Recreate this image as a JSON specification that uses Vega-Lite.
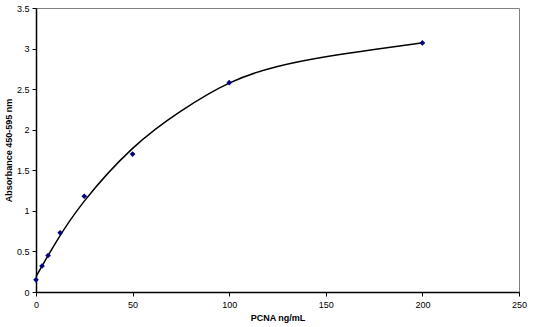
{
  "$schema": "https://vega.github.io/schema/vega-lite/v6.json",
  "autosize": "none",
  "width": 483,
  "height": 284,
  "padding": {"left": 36, "top": 8, "right": 18, "bottom": 35},
  "background": "white",
  "config": {
    "view": {"stroke": "#808080", "strokeWidth": 1},
    "font": "Liberation Sans",
    "axis": {
      "grid": false,
      "labelFlush": false,
      "labelOverlap": false,
      "domainColor": "#000000",
      "domainWidth": 1.5,
      "tickColor": "#000000",
      "tickSize": 4,
      "labelFont": "Liberation Sans",
      "labelFontSize": 9,
      "labelColor": "#000000",
      "titleFont": "Liberation Sans",
      "titleFontSize": 9,
      "titleFontWeight": "bold",
      "titleColor": "#000000"
    }
  },
  "datasets": {
    "points": [
      {"conc": 0, "abs": 0.15},
      {"conc": 3.125, "abs": 0.32},
      {"conc": 6.25, "abs": 0.45},
      {"conc": 12.5, "abs": 0.73},
      {"conc": 25, "abs": 1.18},
      {"conc": 50, "abs": 1.70},
      {"conc": 100, "abs": 2.58},
      {"conc": 200, "abs": 3.07}
    ],
    "curve": [
      {"conc": 0, "abs": 0.19},
      {"conc": 10, "abs": 0.60},
      {"conc": 25, "abs": 1.12},
      {"conc": 50, "abs": 1.77},
      {"conc": 75, "abs": 2.23},
      {"conc": 100, "abs": 2.575},
      {"conc": 125, "abs": 2.78},
      {"conc": 150, "abs": 2.90},
      {"conc": 175, "abs": 2.99},
      {"conc": 200, "abs": 3.07}
    ]
  },
  "layer": [
    {
      "data": {"name": "curve"},
      "mark": {"type": "line", "color": "#000000", "strokeWidth": 1.5, "interpolate": "natural"},
      "encoding": {
        "x": {
          "field": "conc", "type": "quantitative",
          "scale": {"domain": [0, 250], "nice": false},
          "axis": {"values": [0, 50, 100, 150, 200, 250], "format": "d", "title": "PCNA ng/mL", "labelPadding": 4, "titlePadding": 4}
        },
        "y": {
          "field": "abs", "type": "quantitative",
          "scale": {"domain": [0, 3.5], "nice": false},
          "axis": {"values": [0, 0.5, 1, 1.5, 2, 2.5, 3, 3.5], "format": "~g", "title": "Absorbance 450-595 nm", "labelPadding": 3, "titlePadding": 3}
        }
      }
    },
    {
      "data": {"name": "points"},
      "mark": {"type": "point", "shape": "diamond", "filled": true, "color": "#000080", "opacity": 1, "size": 32},
      "encoding": {
        "x": {"field": "conc", "type": "quantitative"},
        "y": {"field": "abs", "type": "quantitative"}
      }
    }
  ]
}
